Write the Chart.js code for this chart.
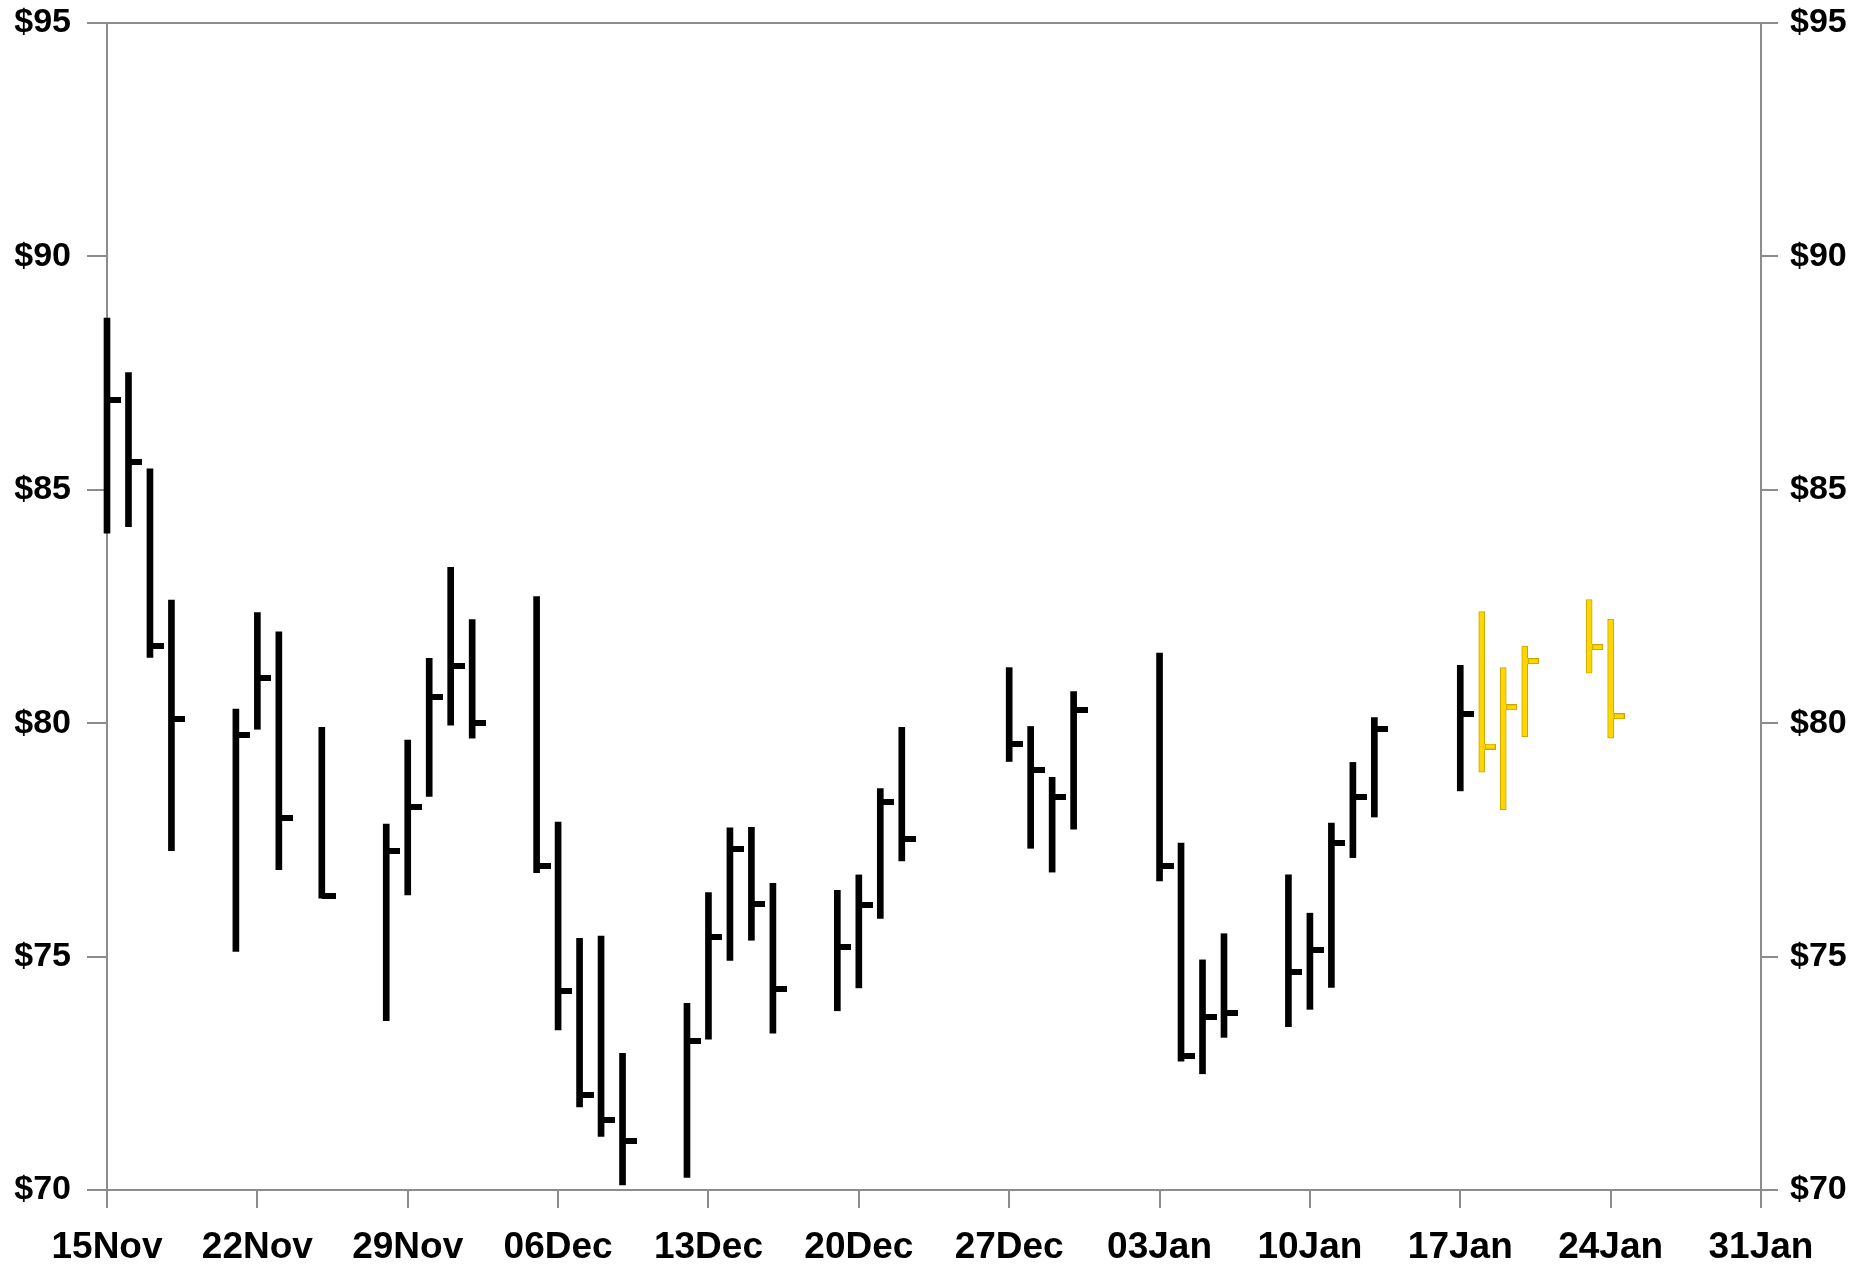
<!DOCTYPE html>
<html>
<head>
<meta charset="utf-8">
<title>Price bars</title>
<script src="https://cdn.jsdelivr.net/npm/chart.js@4.4.1/dist/chart.umd.min.js"></script>
<style>
    html, body { margin: 0; padding: 0; background: #ffffff; }
    #wrap { width: 1868px; height: 1266px; }
</style>
</head>
<body>
<div id="wrap"><canvas id="priceChart" width="1868" height="1266"></canvas></div>
<script>
// trading days (18Jan onwards drawn in yellow)
var dates = ['2016-11-15', '2016-11-16', '2016-11-17', '2016-11-18', '2016-11-21', '2016-11-22', '2016-11-23', '2016-11-25',
    '2016-11-28', '2016-11-29', '2016-11-30', '2016-12-01', '2016-12-02', '2016-12-05', '2016-12-06', '2016-12-07',
    '2016-12-08', '2016-12-09', '2016-12-12', '2016-12-13', '2016-12-14', '2016-12-15', '2016-12-16', '2016-12-19',
    '2016-12-20', '2016-12-21', '2016-12-22', '2016-12-27', '2016-12-28', '2016-12-29', '2016-12-30', '2017-01-03',
    '2017-01-04', '2017-01-05', '2017-01-06', '2017-01-09', '2017-01-10', '2017-01-11', '2017-01-12', '2017-01-13',
    '2017-01-17', '2017-01-18', '2017-01-19', '2017-01-20', '2017-01-23', '2017-01-24'];
var highs = [88.68, 87.51, 85.45, 82.64, 80.30, 82.37, 81.96, 79.91, 77.84, 79.64, 81.39,
    83.34, 82.22, 82.71, 77.88, 75.39, 75.44, 72.93, 74.00, 76.37, 77.76, 77.77, 76.57, 76.42, 76.75, 78.60, 79.91,
    81.19, 79.93, 78.84, 80.68,
    81.50, 77.43, 74.93, 75.49, 76.75, 75.93, 77.86, 79.16, 80.12, 81.24, 82.39, 81.19, 81.65, 82.65, 82.23];
var lows = [84.07, 84.21, 81.41, 77.27, 75.11, 79.87, 76.86, 76.25, 73.63, 76.32, 78.43,
    79.96, 79.68, 76.80, 73.43, 71.78, 71.15, 70.11, 70.27, 73.23, 74.92, 75.35, 73.36, 73.84, 74.33, 75.82, 77.05,
    79.18, 77.32, 76.81, 77.73,
    76.62, 72.76, 72.49, 73.27, 73.50, 73.87, 74.34, 77.12, 77.99, 78.55, 78.95, 78.15, 79.71, 81.07, 79.68];
var closes = [86.93, 85.59, 81.66, 80.10, 79.75, 80.96, 77.96, 76.30, 77.26, 78.21, 80.57,
    81.23, 80.00, 76.95, 74.27, 72.03, 71.49, 71.04, 73.19, 75.42, 77.30, 76.13, 74.31, 75.21, 76.11, 78.32, 77.51,
    79.55, 78.99, 78.42, 80.28,
    76.95, 72.87, 73.70, 73.80, 74.66, 75.14, 77.43, 78.41, 79.88, 80.19, 79.50, 80.34, 81.33, 81.63, 80.15];
var highlightFrom = '2017-01-18';

var startDate = '2016-11-15';
var xTickLabels = ['15Nov', '22Nov', '29Nov', '06Dec', '13Dec', '20Dec', '27Dec', '03Jan', '10Jan', '17Jan', '24Jan', '31Jan'];
var yMin = 70, yMax = 95, yStep = 5;

var BLACK = '#000000';
var GOLD = '#ffd700';
var GOLD_EDGE = '#c9a600';
var AXIS = '#8c8c8c';

function dayOffset(d) {
    return (Date.parse(d) - Date.parse(startDate)) / 864e5;
}

// close tick: small stub to the right of the bar, point sits in the middle of the image
function closeMark(fill, edge) {
    var c = document.createElement('canvas');
    c.width = 28;
    c.height = 6;
    var g = c.getContext('2d');
    g.fillStyle = fill;
    g.fillRect(14, 0, 14, 6);
    if (edge) {
        g.strokeStyle = edge;
        g.lineWidth = 1;
        g.strokeRect(17.5, 0.5, 10, 5);
    }
    return c;
}

var barsPast = [], barsNew = [], closePast = [], closeNew = [];
for (var i = 0; i < dates.length; i++) {
    var x = dayOffset(dates[i]);
    var bar = {x: x, y: [lows[i], highs[i]]};
    var cl = {x: x, y: closes[i]};
    if (dates[i] >= highlightFrom) {
        barsNew.push(bar);
        closeNew.push(cl);
    } else {
        barsPast.push(bar);
        closePast.push(cl);
    }
}

var labelFont = {family: '"Liberation Sans", Arial, Helvetica, sans-serif', weight: 'bold'};

function yTickCb(v) {
    return '$' + v;
}

// fixed side width, no extra room reserved for half labels
function fixVertical(s) {
    s.width = 107;
    s.paddingTop = 0;
    s.paddingBottom = 0;
}

var ctx = document.getElementById('priceChart');
var chart = new Chart(ctx, {
    type: 'bar',
    data: {
        datasets: [
            {
                type: 'scatter',
                data: closePast,
                pointStyle: closeMark(BLACK),
                pointRadius: 6,
                clip: false,
                order: 1
            },
            {
                type: 'scatter',
                data: closeNew,
                pointStyle: closeMark(GOLD, GOLD_EDGE),
                pointRadius: 6,
                clip: false,
                order: 1
            },
            {
                data: barsPast,
                backgroundColor: BLACK,
                borderWidth: 0,
                barThickness: 6,
                grouped: false,
                clip: false,
                order: 2
            },
            {
                data: barsNew,
                backgroundColor: GOLD,
                borderColor: GOLD_EDGE,
                borderWidth: 1,
                borderSkipped: false,
                barThickness: 6,
                grouped: false,
                clip: false,
                order: 2
            }
        ]
    },
    options: {
        responsive: false,
        animation: false,
        maintainAspectRatio: false,
        layout: {padding: {top: 23, left: 0, right: 0, bottom: 0}},
        plugins: {
            legend: {display: false},
            tooltip: {enabled: false}
        },
        scales: {
            x: {
                type: 'linear',
                position: 'bottom',
                min: 0,
                max: 77,
                offset: false,
                grid: {
                    offset: false,
                    drawOnChartArea: false,
                    color: AXIS,
                    lineWidth: 2,
                    tickLength: 18
                },
                border: {color: AXIS, width: 2},
                ticks: {
                    stepSize: 7,
                    autoSkip: false,
                    maxRotation: 0,
                    padding: 18,
                    color: BLACK,
                    font: Object.assign({size: 37}, labelFont),
                    callback: function (v) {
                        return xTickLabels[v / 7];
                    }
                },
                afterFit: function (s) {
                    s.height = 76;
                    s.paddingLeft = 0;
                    s.paddingRight = 0;
                }
            },
            y: {
                position: 'left',
                min: yMin,
                max: yMax,
                grid: {
                    drawOnChartArea: true,
                    color: function (c) {
                        return c.tick && c.tick.value === yMax ? AXIS : 'rgba(0,0,0,0)';
                    },
                    tickColor: AXIS,
                    lineWidth: 2,
                    tickLength: 20
                },
                border: {color: AXIS, width: 2},
                ticks: {
                    stepSize: yStep,
                    padding: 16,
                    color: BLACK,
                    font: Object.assign({size: 34}, labelFont),
                    callback: yTickCb
                },
                afterFit: fixVertical
            },
            y2: {
                position: 'right',
                min: yMin,
                max: yMax,
                grid: {
                    drawOnChartArea: false,
                    color: AXIS,
                    lineWidth: 2,
                    tickLength: 17
                },
                border: {color: AXIS, width: 2},
                ticks: {
                    stepSize: yStep,
                    padding: 12,
                    color: BLACK,
                    font: Object.assign({size: 34}, labelFont),
                    callback: yTickCb
                },
                afterFit: fixVertical
            }
        }
    }
});
</script>
</body>
</html>
